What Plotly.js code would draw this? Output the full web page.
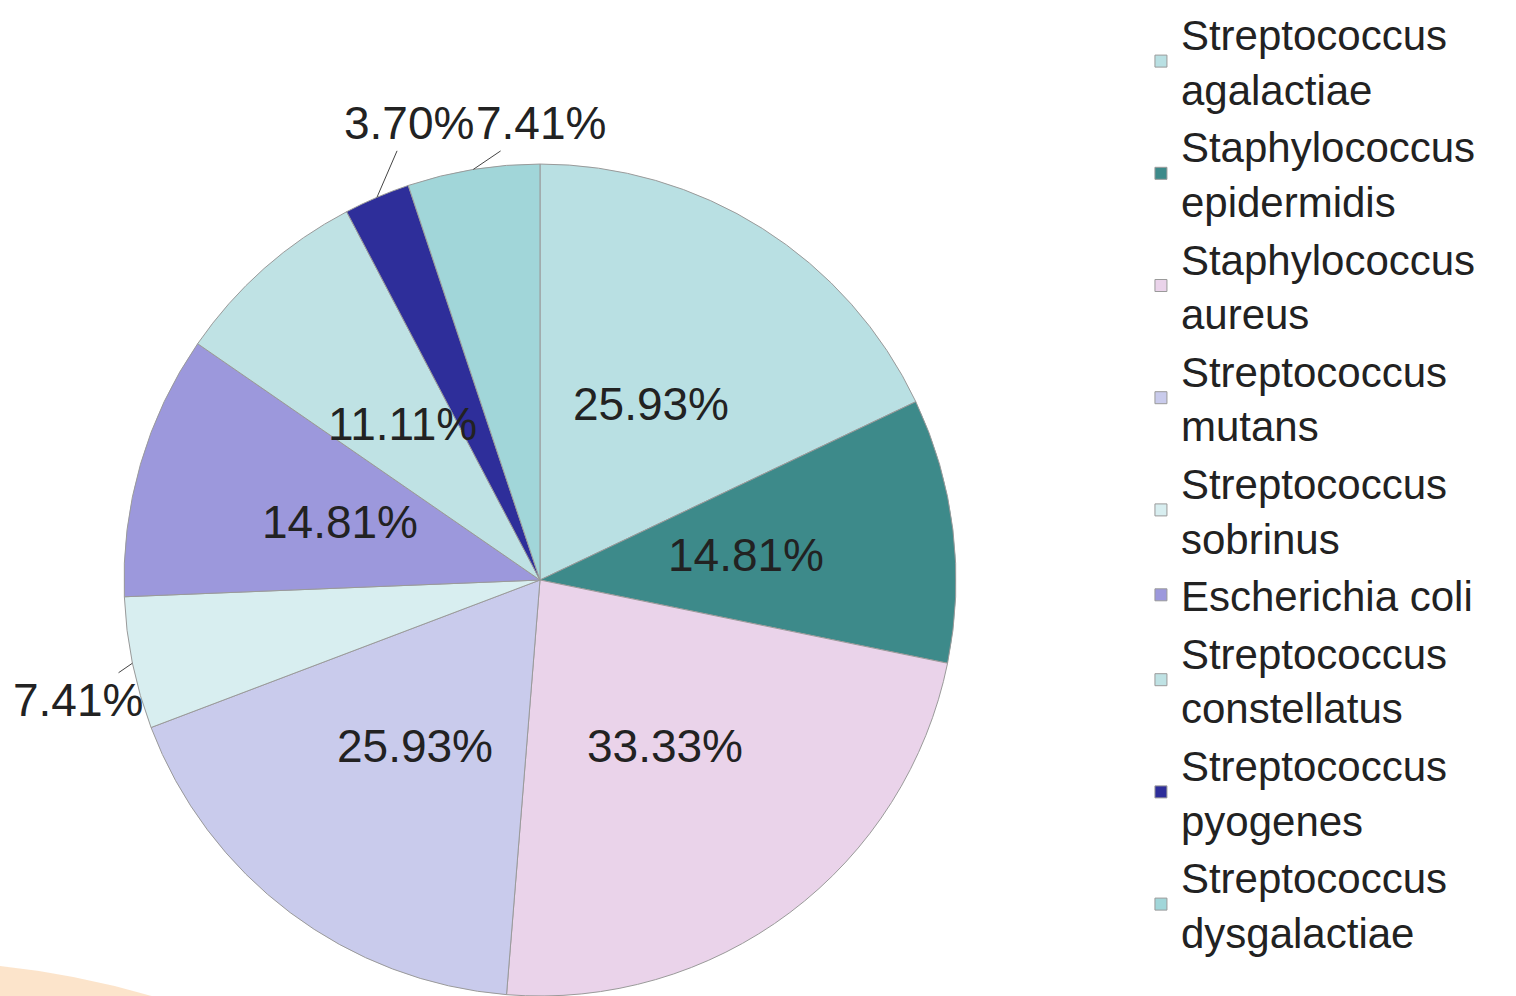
<!DOCTYPE html>
<html>
<head>
<meta charset="utf-8">
<script src="https://cdn.plot.ly/plotly-3.0.1.min.js"></script>
<style>
  html, body { margin: 0; padding: 0; background: #ffffff; }
  #chart { width: 1516px; height: 996px; }
</style>
</head>
<body>
<div id="chart"></div>
<script>
// Species (legend order = slice order, clockwise from 12 o'clock)
var species = [
  "Streptococcus<br>agalactiae",
  "Staphylococcus<br>epidermidis",
  "Staphylococcus<br>aureus",
  "Streptococcus<br>mutans",
  "Streptococcus<br>sobrinus",
  "Escherichia coli",
  "Streptococcus<br>constellatus",
  "Streptococcus<br>pyogenes",
  "Streptococcus<br>dysgalactiae"
];
// Slice sizes (isolate counts)
var counts = [7, 4, 9, 7, 2, 4, 3, 1, 2];
// Percent labels as printed on the chart
var pctLabels = ["25.93%", "14.81%", "33.33%", "25.93%", "7.41%", "14.81%", "11.11%", "3.70%", "7.41%"];
// Which labels sit outside the pie with a leader line
var labelOutside = [false, false, false, false, true, false, false, true, true];
var sliceColors = ["#b9e0e3", "#3d8a8a", "#ead3ea", "#c9cbec", "#d8eef0", "#9c98dc", "#bfe2e4", "#2e2e9a", "#a1d6d9"];

var FONT = "Liberation Sans, Arial, sans-serif";
var PIE_DOMAIN = { x: [0.0818, 0.6306], y: [0, 0.8353] };

// pixel offsets of outside labels from their leader-line anchor (layout only)
var outsideOffsets = { 4: [-54, 37], 7: [32, -74], 8: [68, -46] };

var pie = {
  type: "pie",
  labels: species,
  values: counts,
  textinfo: "none",
  sort: false,
  direction: "clockwise",
  rotation: 0,
  marker: { colors: sliceColors, line: { color: "#9a9a9a", width: 1 } },
  domain: PIE_DOMAIN,
  hoverinfo: "label+percent"
};

// empty helper trace so that a hidden cartesian frame (same square as the pie) exists
var frame = { type: "scatter", x: [], y: [], mode: "markers", showlegend: false, hoverinfo: "skip" };

// labels placed on the pie's own angular layout, via the hidden axes
var total = counts.reduce(function (a, b) { return a + b; }, 0);
var annotations = [];
var cum = 0;
for (var i = 0; i < counts.length; i++) {
  var mid = (cum + counts[i] / 2) / total * 2 * Math.PI;
  cum += counts[i];
  var sx = Math.sin(mid), cy = Math.cos(mid);
  if (labelOutside[i]) {
    var off = outsideOffsets[i] || [0, -40];
    annotations.push({
      xref: "x", yref: "y", x: sx, y: cy,
      text: pctLabels[i], showarrow: true, arrowhead: 0, arrowwidth: 1,
      arrowcolor: "#444444", standoff: 0, ax: off[0], ay: off[1],
      font: { family: FONT, size: 46, color: "#222222" }
    });
  } else {
    annotations.push({
      xref: "x", yref: "y", x: 0.5 * sx, y: 0.5 * cy,
      xanchor: "center", yanchor: "middle",
      text: pctLabels[i], showarrow: false,
      font: { family: FONT, size: 46, color: "#222222" }
    });
  }
}

var layout = {
  width: 1516,
  height: 996,
  margin: { l: 0, r: 0, t: 0, b: 0 },
  paper_bgcolor: "#ffffff",
  plot_bgcolor: "rgba(0,0,0,0)",
  xaxis: { domain: PIE_DOMAIN.x, range: [-1, 1], visible: false, fixedrange: true },
  yaxis: { domain: PIE_DOMAIN.y, range: [-1, 1], visible: false, fixedrange: true },
  showlegend: true,
  legend: {
    x: 0.7526, xanchor: "left",
    y: 1.0, yanchor: "top",
    font: { family: FONT, size: 42, color: "#222222" },
    bgcolor: "rgba(0,0,0,0)",
    traceorder: "normal"
  },
  annotations: annotations,
  shapes: [{
    type: "path",
    xref: "paper", yref: "paper",
    path: "M 0,0.03 Q 0.05,0.022 0.1,0 L 0,0 Z",
    fillcolor: "rgba(250,205,160,0.55)",
    line: { width: 0 },
    layer: "below"
  }]
};

Plotly.newPlot("chart", [pie, frame], layout, { displayModeBar: false, staticPlot: true });
</script>
</body>
</html>
